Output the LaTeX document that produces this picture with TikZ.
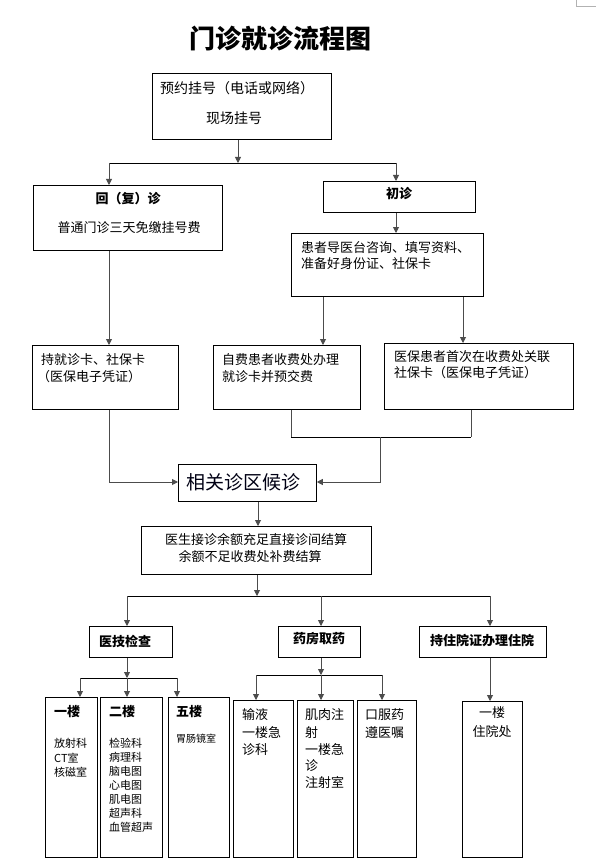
\documentclass[tikz,border=0pt]{standalone}
\usepackage{fontspec}
\setmainfont{Noto Sans CJK SC}
\usetikzlibrary{arrows.meta}
\tikzset{
  box/.style={draw=black, line width=0.8pt, inner sep=0pt, anchor=north west},
  conn/.style={draw=black!70, line width=0.9pt},
  hline/.style={draw=black, line width=0.9pt},
  arr/.style={conn, -{Triangle[length=6pt,width=6pt]}},
  txt/.style={inner sep=0pt, anchor=west, font=\fontsize{13}{13}\selectfont},
  ctxt/.style={inner sep=0pt, anchor=center, font=\fontsize{13}{13}\selectfont},
  btxt/.style={inner sep=0pt, anchor=center, font=\fontsize{13}{13}\selectfont\bfseries},
  small/.style={inner sep=0pt, anchor=west, font=\fontsize{11}{11}\selectfont},
}
\newcommand{\mybox}[5]{\node[box, minimum width=#4pt-#2pt, minimum height=#5pt-#3pt] (#1) at (#2,#3) {};}
\begin{document}
\begin{tikzpicture}[x=1pt,y=-1pt]
\useasboundingbox[fill=white] (0,0) rectangle (596,861);
% corner mark
\draw[black!30, line width=0.7pt] (576,0) -- (576,6) -- (596,6);
% title
\node[inner sep=0pt, font=\fontsize{26}{26}\selectfont\bfseries] (title) at (280,39) {门诊就诊流程图};
% boxes
\mybox{reg}{152}{73}{331}{139}
\mybox{fu}{33}{185}{222}{250}
\mybox{cz}{323}{181}{475}{212}
\mybox{hz}{291}{233}{483}{296}
\mybox{cjk}{32}{345}{178}{409}
\mybox{zf}{213}{345}{360}{409}
\mybox{yb}{384}{343}{573}{409}
\mybox{hq}{178}{464}{316}{501}
\mybox{ys}{141}{526}{371}{574}
\mybox{yj}{89}{626}{172}{657}
\mybox{yf}{278}{626}{360}{657}
\mybox{zy}{419}{626}{546}{657}
\mybox{fa}{45}{697}{97}{857}
\mybox{fb}{100}{697}{162}{857}
\mybox{fc}{168}{697}{229}{857}
\mybox{sy}{233}{700}{293}{857}
\mybox{jr}{297}{700}{353}{857}
\mybox{kf}{357}{700}{416}{857}
\mybox{zyc}{462}{701}{522}{857}
% texts
\node[txt, font=\fontsize{14}{14}\selectfont] (t1) at (160,88) {预约挂号（电话或网络）};
\node[txt, font=\fontsize{14}{14}\selectfont] (t2) at (206,118) {现场挂号};
\node[btxt] (t3) at (128,199) {回（复）诊};
\node[ctxt] (t4) at (129,228) {普通门诊三天免缴挂号费};
\node[btxt] (t5) at (399,194) {初诊};
\node[txt] (t6) at (301,248) {患者导医台咨询、填写资料、};
\node[txt] (t7) at (301,264) {准备好身份证、社保卡};
\node[txt] (t8) at (41,360) {持就诊卡、社保卡};
\node[txt] (t9) at (37,377) {（医保电子凭证）};
\node[txt] (t10) at (222,360) {自费患者收费处办理};
\node[txt] (t11) at (222,377) {就诊卡并预交费};
\node[txt] (t12) at (394,357) {医保患者首次在收费处关联};
\node[txt] (t13) at (394,373) {社保卡（医保电子凭证）};
\node[inner sep=0pt, font=\fontsize{19}{19}\selectfont, text=black!92!blue] (t14) at (243,482) {相关诊区候诊};
\node[ctxt] (t15) at (256,540) {医生接诊余额充足直接诊间结算};
\node[ctxt] (t16) at (250,557) {余额不足收费处补费结算};
\node[btxt, anchor=west] (t17) at (99,641) {医技检查};
\node[btxt] (t18) at (319,639) {药房取药};
\node[btxt] (t19) at (482,641) {持住院证办理住院};
\node[btxt, anchor=west] (t20) at (54,712) {一楼};
\node[small] (t21) at (54,743) {放射科};
\node[small] (t22) at (54,758) {CT室};
\node[small] (t23) at (54,772) {核磁室};
\node[btxt, anchor=west] (t24) at (109,712) {二楼};
\node[small] (t25) at (109,743) {检验科};
\node[small] (t26) at (109,757) {病理科};
\node[small] (t27) at (109,771) {脑电图};
\node[small] (t28) at (109,785) {心电图};
\node[small] (t29) at (109,799) {肌电图};
\node[small] (t30) at (109,813) {超声科};
\node[small] (t31) at (109,827) {血管超声};
\node[btxt, anchor=west] (t32) at (176,712) {五楼};
\node[small, font=\fontsize{10}{10}\selectfont] (t33) at (176,739) {胃肠镜室};
\node[txt] (t34) at (242,715) {输液};
\node[txt] (t35) at (242,733) {一楼急};
\node[txt] (t36) at (242,750) {诊科};
\node[txt] (t37) at (305,715) {肌肉注};
\node[txt] (t38) at (305,733) {射};
\node[txt] (t39) at (305,750) {一楼急};
\node[txt] (t40) at (305,766) {诊};
\node[txt] (t41) at (305,782) {注射室};
\node[txt] (t42) at (365,715) {口服药};
\node[txt] (t43) at (365,733) {遵医嘱};
\node[ctxt] (t44) at (492,713) {一楼};
\node[ctxt] (t45) at (492,732) {住院处};
% connectors level 1
\coordinate (j1) at (238,163);
\coordinate (j1l) at (109,163);
\coordinate (j1r) at (396,163);
\draw[arr] (reg.south -| j1) -- (j1);
\draw[hline] (j1l) -- (j1r);
\draw[arr] (j1l) -- (j1l |- fu.north);
\draw[arr] (j1r) -- (j1r |- cz.north);
\draw[arr] (cz.south -| j1r) -- (j1r |- hz.north);
% level 2
\coordinate (c1) at (109,0);
\coordinate (c2) at (323,0);
\coordinate (c3) at (463,0);
\draw[arr] (fu.south -| c1) -- (c1 |- cjk.north);
\draw[arr] (hz.south -| c2) -- (c2 |- zf.north);
\draw[arr] (hz.south -| c3) -- (c3 |- yb.north);
% merge to hq
\coordinate (m1) at (291,437);
\coordinate (m2) at (471,437);
\coordinate (m3) at (380,437);
\coordinate (hqy) at (0,482);
\draw[conn] (zf.south -| m1) -- (m1);
\draw[conn] (yb.south -| m2) -- (m2);
\draw[hline] (m1) -- (m2);
\draw[arr] (m3) -- (m3 |- hqy) -- (hq.east |- hqy);
\draw[arr] (cjk.south -| c1) -- (c1 |- hqy) -- (hq.west |- hqy);
% hq to ys
\coordinate (c4) at (258,0);
\draw[arr] (hq.south -| c4) -- (c4 |- ys.north);
% level 3
\coordinate (j3) at (257,596);
\coordinate (j3l) at (127,596);
\coordinate (j3m) at (321,596);
\coordinate (j3r) at (490,596);
\draw[arr] (ys.south -| j3) -- (j3);
\draw[hline] (j3l) -- (j3r);
\draw[arr] (j3l) -- (j3l |- yj.north);
\draw[arr] (j3m) -- (j3m |- yf.north);
\draw[arr] (j3r) -- (j3r |- zy.north);
% level 4 left
\coordinate (j4) at (127,678);
\coordinate (j4l) at (80,678);
\coordinate (j4r) at (177,678);
\draw[arr] (yj.south -| j4) -- (j4);
\draw[hline] (j4l) -- (j4r);
\draw[arr] (j4l) -- (j4l |- fa.north);
\draw[arr] (j4) -- (j4 |- fb.north);
\draw[arr] (j4r) -- (j4r |- fc.north);
% level 4 middle
\coordinate (j5) at (321,675);
\coordinate (j5l) at (256,675);
\coordinate (j5r) at (382,675);
\draw[arr] (yf.south -| j5) -- (j5);
\draw[hline] (j5l) -- (j5r);
\draw[arr] (j5l) -- (j5l |- sy.north);
\draw[arr] (j5) -- (j5 |- jr.north);
\draw[arr] (j5r) -- (j5r |- kf.north);
% level 4 right
\coordinate (c5) at (490,0);
\draw[arr] (zy.south -| c5) -- (c5 |- zyc.north);
\end{tikzpicture}
\end{document}
